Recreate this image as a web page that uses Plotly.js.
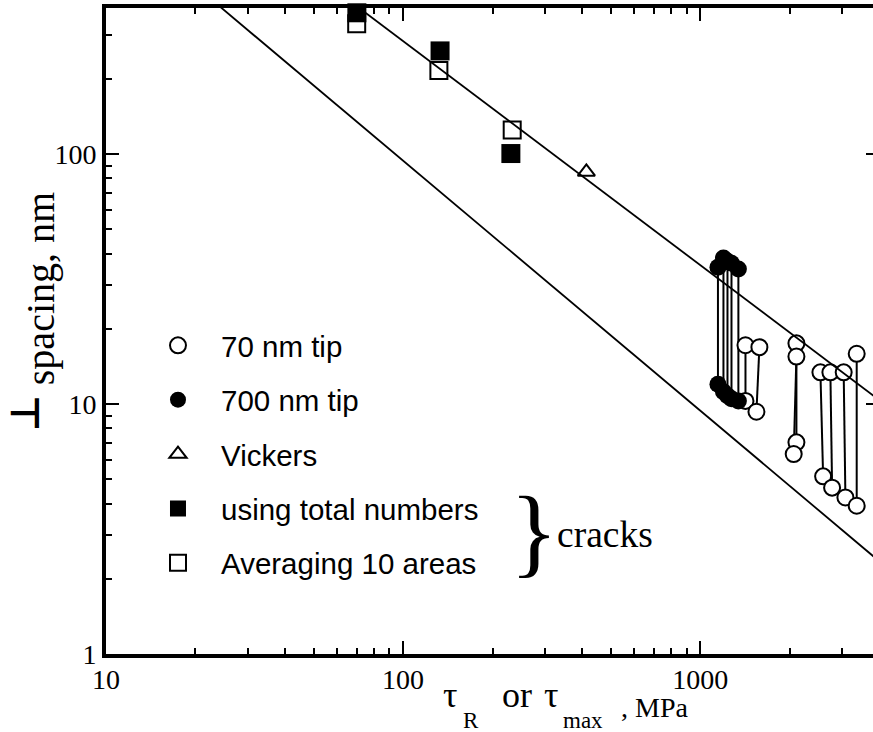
<!DOCTYPE html>
<html><head><meta charset="utf-8">
<script src="https://cdn.plot.ly/plotly-3.0.1.min.js"></script>
<style>html,body{margin:0;padding:0;overflow:hidden;background:#fff}#chart{width:884px;height:732px}</style>
</head><body><div id="chart"></div>
<script>
// ---- data ----
const sqFilledX = [69.9, 133.2, 230.6];
const sqFilledY = [368, 259, 100.6];
const sqOpenX = [69.8, 132, 233];
const sqOpenY = [333, 216.4, 125];
const vickersX = [414];
const vickersY = [84.9];
const tip700X = [1148, 1198, 1236, 1275, 1345];
const tip700Top = [35.3, 38.4, 37.3, 36.6, 34.7];
const tip700Bot = [12.0, 11.2, 10.8, 10.5, 10.3];
const tip70TopX = [1421, 1583, 2109, 2109, 2540, 2744, 3042, 3365];
const tip70TopY = [17.2, 16.9, 17.5, 15.5, 13.4, 13.4, 13.4, 15.9];
const tip70BotX = [1421, 1547, 2109, 2065, 2594, 2781, 3083, 3365];
const tip70BotY = [10.3, 9.32, 7.03, 6.31, 5.14, 4.63, 4.23, 3.92];
const upperLineX = [60, 4000];
const upperLineY = [448, 10.4];
const lowerLineX = [20, 4000];
const lowerLineY = [471, 2.355];
const xTickVals = [10, 100, 1000];
const xTickText = ['10', '100', '1000'];
const yTickVals = [1, 10, 100];
const yTickText = ['1', '10', '100'];
const legendNames = ['70 nm tip', '700 nm tip', 'Vickers', 'using total numbers', 'Averaging 10 areas'];

// ---- build traces ----
const pairX = [], pairY = [];
for (let i = 0; i < tip70TopX.length; i++) { pairX.push(tip70TopX[i], tip70BotX[i], null); pairY.push(tip70TopY[i], tip70BotY[i], null); }
for (let i = 0; i < tip700X.length; i++) { pairX.push(tip700X[i], tip700X[i], null); pairY.push(tip700Top[i], tip700Bot[i], null); }

const blk = '#000';
const traces = [
  {x: pairX, y: pairY, mode: 'lines', line: {color: blk, width: 2}, showlegend: false, hoverinfo: 'skip'},
  {x: tip70TopX.concat(tip70BotX), y: tip70TopY.concat(tip70BotY), mode: 'markers', name: legendNames[0], legendgroup: 'a', legendrank: 1,
   marker: {symbol: 'circle', size: 16, color: '#fff', line: {color: blk, width: 2}}, cliponaxis: false},
  {x: tip700X.concat(tip700X), y: tip700Top.concat(tip700Bot), mode: 'markers', name: legendNames[1], legendgroup: 'b', legendrank: 2,
   marker: {symbol: 'circle', size: 17, color: blk, line: {color: blk, width: 0}}, cliponaxis: false},
  {x: vickersX, y: vickersY, mode: 'markers', name: legendNames[2], legendgroup: 'c', legendrank: 3,
   marker: {symbol: 'triangle-up', size: 15, color: '#fff', line: {color: blk, width: 2}}, cliponaxis: false},
  {x: sqOpenX, y: sqOpenY, mode: 'markers', name: legendNames[4], legendgroup: 'e', legendrank: 5,
   marker: {symbol: 'square', size: 17, color: '#fff', line: {color: blk, width: 2}}, cliponaxis: false},
  {x: sqFilledX, y: sqFilledY, mode: 'markers', name: legendNames[3], legendgroup: 'd', legendrank: 4,
   marker: {symbol: 'square', size: 19, color: blk, line: {color: blk, width: 0}}, cliponaxis: false},
  {x: upperLineX, y: upperLineY, mode: 'lines', line: {color: blk, width: 1.8}, showlegend: false, hoverinfo: 'skip'},
  {x: lowerLineX, y: lowerLineY, mode: 'lines', line: {color: blk, width: 1.8}, showlegend: false, hoverinfo: 'skip'}
];

// ---- layout ----
const W = 884, H = 732, L = 106, R = 879.3, T = 7.7, B = 654;
const px = v => (v - L) / (R - L);
const py = v => (B - v) / (B - T);
const serif = 'Liberation Serif, Times New Roman, serif';
const ann = (text, x, y, size, extra) => Object.assign({text: text, x: px(x), y: py(y), xref: 'paper', yref: 'paper',
  showarrow: false, xanchor: 'left', yanchor: 'middle', font: {family: serif, size: size, color: blk}}, extra || {});

const axisCommon = {
  type: 'log', showgrid: false, zeroline: false, showline: true, linewidth: 4, linecolor: blk, mirror: 'ticks',
  ticks: 'inside', ticklen: 13, tickwidth: 2, tickcolor: blk, tickmode: 'array',
  tickfont: {family: serif, size: 28, color: blk},
  minor: {ticks: 'inside', ticklen: 6, tickwidth: 2, tickcolor: blk, dtick: 'D1', showgrid: false}
};

const layout = {
  width: W, height: H,
  margin: {l: L, r: W - R, t: T, b: H - B, pad: 0},
  paper_bgcolor: '#fff', plot_bgcolor: '#fff',
  xaxis: Object.assign({}, axisCommon, {range: [1, Math.log10(4000)], tickvals: xTickVals, ticktext: xTickText, ticklabelstandoff: -3}),
  yaxis: Object.assign({}, axisCommon, {range: [0, 2.585], tickvals: yTickVals, ticktext: yTickText}),
  showlegend: true,
  legend: {x: px(135), y: py(319.5), xanchor: 'left', yanchor: 'top', bgcolor: 'rgba(0,0,0,0)', borderwidth: 0,
    font: {family: 'Liberation Sans, Arial, sans-serif', size: 29.5, color: blk}, tracegroupgap: 13, itemwidth: 76, traceorder: 'grouped'},
  annotations: [
    ann('τ', 441, 694.9, 36),
    ann('R', 461, 720.2, 23),
    ann('or', 500, 694.9, 36),
    ann('τ', 542, 694.9, 36),
    ann('max', 561, 720.2, 23),
    ann(', MPa', 619, 707.5, 28),
    ann('spacing, nm', 40, 289, 40, {textangle: -90, xanchor: 'center'}),
    ann('<b>⊥</b>', 24.5, 412.5, 40, {textangle: -90, xanchor: 'center', font: {family: 'DejaVu Sans', size: 40, color: blk}}),
    ann('}', 508, 531.3, 100),
    ann('cracks', 555, 534, 37.5)
  ]
};

Plotly.newPlot('chart', traces, layout, {staticPlot: true, displayModeBar: false});
</script></body></html>
